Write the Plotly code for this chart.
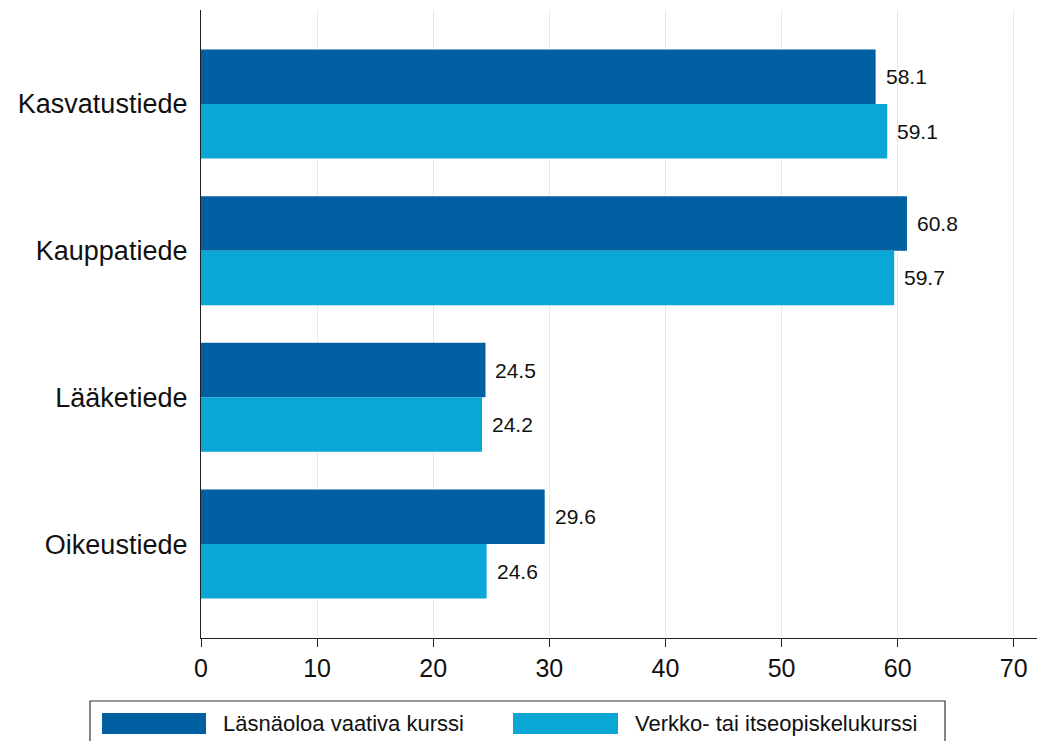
import plotly.graph_objects as go

categories = ["Kasvatustiede", "Kauppatiede", "Lääketiede", "Oikeustiede"]
series_names = ["Läsnäoloa vaativa kurssi", "Verkko- tai itseopiskelukurssi"]
lasnaolo = [58.1, 60.8, 24.5, 29.6]
verkko = [59.1, 59.7, 24.2, 24.6]
x_ticks = [0, 10, 20, 30, 40, 50, 60, 70]

DARK = "#0060A2"
LIGHT = "#0AA6D6"
FONT = "Liberation Sans, Arial, sans-serif"

W, H = 1039, 741
L, R, T, B = 201, 2, 10, 103
PW, PH = W - L - R, H - T - B


def px_x(p):
    return (p - L) / PW


def px_y(p):
    return (H - B - p) / PH


fig = go.Figure()
fig.add_trace(go.Bar(y=categories, x=lasnaolo, orientation="h", name=series_names[0],
                     marker=dict(color=DARK, line=dict(width=0)), showlegend=False))
fig.add_trace(go.Bar(y=categories, x=verkko, orientation="h", name=series_names[1],
                     marker=dict(color=LIGHT, line=dict(width=0)), showlegend=False))

bargap = 0.257
half = (1 - bargap) / 4
annotations = []
for i, (a, b) in enumerate(zip(lasnaolo, verkko)):
    annotations.append(dict(x=a, y=i - half, xref="x", yref="y", text=f"{a:.1f}",
                            showarrow=False, xanchor="left", yanchor="middle", xshift=8,
                            font=dict(size=21, color="#111", family=FONT)))
    annotations.append(dict(x=b, y=i + half, xref="x", yref="y", text=f"{b:.1f}",
                            showarrow=False, xanchor="left", yanchor="middle", xshift=8,
                            font=dict(size=21, color="#111", family=FONT)))

# custom legend
shapes = [
    dict(type="rect", xref="paper", yref="paper", x0=px_x(90), x1=px_x(945),
         y0=px_y(760), y1=px_y(701), line=dict(color="#333", width=1.2), fillcolor="white"),
    dict(type="rect", xref="paper", yref="paper", x0=px_x(102), x1=px_x(206),
         y0=px_y(734), y1=px_y(713), line=dict(width=0), fillcolor=DARK),
    dict(type="rect", xref="paper", yref="paper", x0=px_x(513), x1=px_x(618),
         y0=px_y(734), y1=px_y(713), line=dict(width=0), fillcolor=LIGHT),
]
annotations.append(dict(x=px_x(221), y=px_y(723.5), xref="paper", yref="paper",
                        text=series_names[0], showarrow=False, xanchor="left", yanchor="middle",
                        font=dict(size=22, color="#111", family=FONT)))
annotations.append(dict(x=px_x(633), y=px_y(723.5), xref="paper", yref="paper",
                        text=series_names[1], showarrow=False, xanchor="left", yanchor="middle",
                        font=dict(size=22, color="#111", family=FONT)))

fig.update_layout(
    width=W, height=H,
    margin=dict(l=L, r=R, t=T, b=B),
    paper_bgcolor="white", plot_bgcolor="white",
    barmode="group", bargap=bargap, bargroupgap=0,
    font=dict(family=FONT, color="#111"),
    xaxis=dict(range=[0, 72], tickvals=x_ticks, showgrid=True, gridcolor="#E2EBF0",
               gridwidth=1, zeroline=False, showline=True, linecolor="#222", linewidth=1.3,
               ticks="outside", ticklen=8, tickcolor="#222", tickwidth=1.2,
               tickfont=dict(size=25, family=FONT, color="#111"), fixedrange=True),
    yaxis=dict(range=[3.64, -0.64], type="category", showgrid=False, zeroline=False,
               showline=True, linecolor="#222", linewidth=1.3, ticks="",
               ticklabelstandoff=7, tickfont=dict(size=27, family=FONT, color="#111"),
               fixedrange=True),
    shapes=shapes,
    annotations=annotations,
    showlegend=False,
)

fig.write_html("out.html", config={"displayModeBar": False},
               post_script="document.body.style.margin='0';document.body.style.overflow='hidden';")
